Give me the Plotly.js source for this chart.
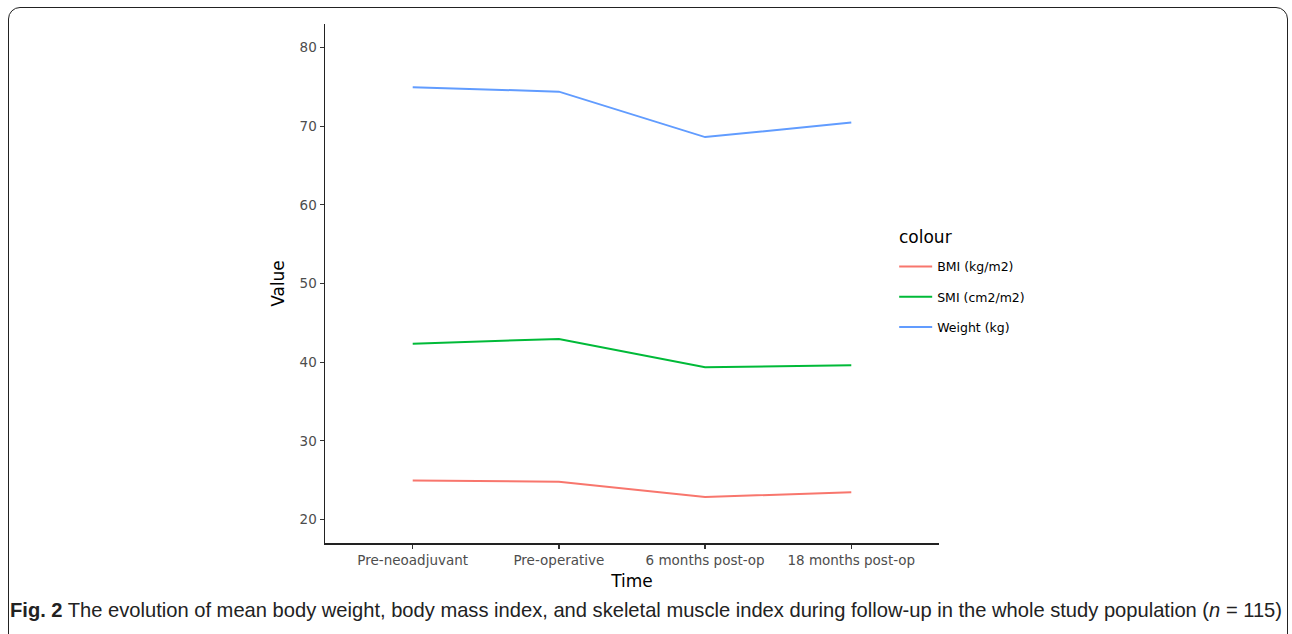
<!DOCTYPE html>
<html>
<head>
<meta charset="utf-8">
<script src="https://cdn.plot.ly/plotly-3.0.1.min.js"></script>
<style>
  html, body { margin: 0; padding: 0; background: #fff; }
  #wrap { position: relative; width: 1292px; height: 634px; overflow: hidden; }
  #frame { position: absolute; left: 8px; top: 7px; width: 1280px; height: 700px;
           border: 1.5px solid #222; border-radius: 12px; box-sizing: border-box; }
  #chart { position: absolute; left: 0; top: 0; width: 1292px; height: 634px; }
  #caption { position: absolute; left: 10px; top: 598px; white-space: nowrap;
             font-family: "Liberation Sans", Arial, sans-serif; transform-origin: 0 0;
             font-size: 21px; color: #222; }
</style>
</head>
<body>
<div id="wrap">
  <div id="frame"></div>
  <div id="chart"></div>
  <div id="caption"><b>Fig. 2</b> The evolution of mean body weight, body mass index, and skeletal muscle index during follow-up in the whole study population (<i>n</i> = 115)</div>
</div>
<script>
const timepoints = ["Pre-neoadjuvant", "Pre-operative", "6 months post-op", "18 months post-op"];
const bmi = [24.95, 24.8, 22.85, 23.45];
const smi = [42.35, 42.95, 39.35, 39.6];
const weight = [74.97, 74.4, 68.62, 70.47];
const seriesNames = ["BMI (kg/m2)", "SMI (cm2/m2)", "Weight (kg)"];
const seriesColors = ["#F8766D", "#00BA38", "#619CFF"];
const yTicks = [20, 30, 40, 50, 60, 70, 80];

const values = [bmi, smi, weight];
const traces = values.map((v, i) => ({
  type: "scatter", mode: "lines", x: timepoints, y: v,
  name: seriesNames[i], legendgroup: "g" + i,
  line: { color: seriesColors[i], width: 2 }
}));

const FAM = "DejaVu Sans, Liberation Sans, Arial, sans-serif";
const tickFont = { family: FAM, size: 13.5, color: "#4d4d4d" };
const titleFont = { family: FAM, size: 17, color: "#000" };

const layout = {
  width: 1292, height: 634,
  margin: { l: 325, r: 353, t: 24, b: 91 },
  paper_bgcolor: "rgba(0,0,0,0)", plot_bgcolor: "rgba(0,0,0,0)",
  xaxis: {
    type: "category", range: [-0.6, 3.6], showgrid: false, zeroline: false,
    showline: true, linecolor: "#222", linewidth: 1.5,
    ticks: "outside", ticklen: 4, tickcolor: "#333", tickwidth: 1.2,
    tickfont: tickFont,
    title: { text: "Time", font: titleFont, standoff: 8 }
  },
  yaxis: {
    range: [17, 83], showgrid: false, zeroline: false,
    showline: true, linecolor: "#222", linewidth: 1.5,
    ticks: "outside", ticklen: 4, tickcolor: "#333", tickwidth: 1.2,
    tickvals: yTicks, ticktext: yTicks.map(String),
    tickfont: tickFont,
    title: { text: "Value", font: titleFont, standoff: 10 }
  },
  showlegend: true,
  legend: {
    x: 0.927, xanchor: "left", y: 0.561, yanchor: "top",
    bgcolor: "rgba(0,0,0,0)", borderwidth: 0,
    tracegroupgap: 11, itemwidth: 33,
    font: { family: FAM, size: 12.5, color: "#000" }
  },
  annotations: [{
    text: "colour", xref: "paper", yref: "paper",
    x: (896 - 325) / 613, y: (543 - 237) / 519, xanchor: "left", yanchor: "middle",
    showarrow: false, font: titleFont
  }]
};

Plotly.newPlot("chart", traces, layout, { displayModeBar: false, staticPlot: true });

// fit caption width to the reference span (condensed look)
const cap = document.getElementById("caption");
const target = 1272;
const w = cap.getBoundingClientRect().width;
if (w > 0) {
  cap.style.transform = "scaleX(" + (target / w).toFixed(4) + ")";
}
</script>
</body>
</html>
